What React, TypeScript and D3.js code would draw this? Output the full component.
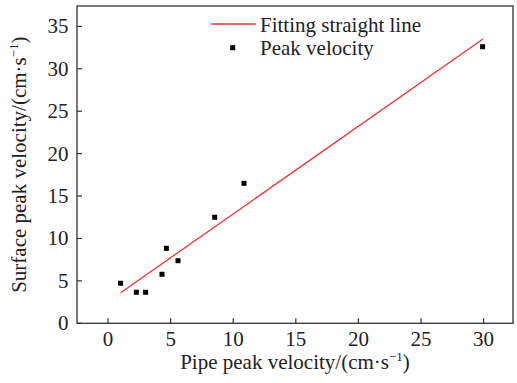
import React from "react";
import * as d3 from "d3";

const pipeVelocity = [1.0, 2.26, 3.0, 4.31, 4.66, 5.59, 8.52, 10.86, 29.92];
const surfaceVelocity = [4.72, 3.66, 3.66, 5.78, 8.84, 7.38, 12.5, 16.5, 32.6];
const fitX = [1.0, 29.95];
const fitY = [3.6, 33.5];
const xTicks = [0, 5, 10, 15, 20, 25, 30];
const yTicks = [0, 5, 10, 15, 20, 25, 30, 35];

export default function App() {
  const W = 517, H = 383;
  const left = 77, right = 513, top = 6, bottom = 323.3;
  const x = d3.scaleLinear().domain([-2.48, 32.35]).range([left, right]);
  const y = d3.scaleLinear().domain([0, 37.4]).range([bottom, top]);
  const line = d3.line<number>().x((d) => x(fitX[d])).y((d) => y(fitY[d]));
  const font = "Liberation Serif, Times New Roman, Times, serif";
  const fs = 21;
  const axisColor = "#333";
  const textColor = "#222";
  return (
    <svg width={W} height={H} style={{ position: "absolute", left: 0, top: 0, fontFamily: font }}>
      <rect x={0} y={0} width={W} height={H} fill="#fff" />
      <rect x={left} y={top} width={right - left} height={bottom - top} fill="none" stroke={axisColor} strokeWidth={1.3} />
      {xTicks.map((t) => (
        <g key={"x" + t}>
          <line x1={x(t)} x2={x(t)} y1={bottom} y2={bottom - 5} stroke={axisColor} strokeWidth={1.2} />
          <text x={x(t)} y={345.5} textAnchor="middle" fontSize={fs} fill={textColor}>{t}</text>
        </g>
      ))}
      {yTicks.map((t) => (
        <g key={"y" + t}>
          <line x1={left} x2={left + 5} y1={y(t)} y2={y(t)} stroke={axisColor} strokeWidth={1.2} />
          <text x={68.5} y={y(t) + 7} textAnchor="end" fontSize={fs} fill={textColor}>{t}</text>
        </g>
      ))}
      <path d={line([0, 1]) || ""} stroke="#ee3333" strokeWidth={1.3} fill="none" />
      {pipeVelocity.map((v, i) => (
        <rect key={"p" + i} x={x(v) - 2.5} y={y(surfaceVelocity[i]) - 2.5} width={5} height={5} fill="#000" />
      ))}
      <text x={(left + right) / 2} y={368.5} textAnchor="middle" fontSize={fs} fill={textColor}>
        Pipe peak velocity/(cm·s<tspan dy={-8} fontSize={13}>−1</tspan><tspan dy={8}>)</tspan>
      </text>
      <text transform={`translate(26, ${(top + bottom) / 2}) rotate(-90)`} textAnchor="middle" fontSize={fs} fill={textColor}>
        Surface peak velocity/(cm·s<tspan dy={-8} fontSize={13}>−1</tspan><tspan dy={8}>)</tspan>
      </text>
      <line x1={211} x2={255.7} y1={24} y2={24} stroke="#ee3333" strokeWidth={1.3} />
      <text x={260} y={31.5} fontSize={fs} fill={textColor}>Fitting straight line</text>
      <rect x={232.7 - 2.5} y={47.7 - 2.5} width={5} height={5} fill="#000" />
      <text x={260} y={54.5} fontSize={fs} fill={textColor}>Peak velocity</text>
    </svg>
  );
}
